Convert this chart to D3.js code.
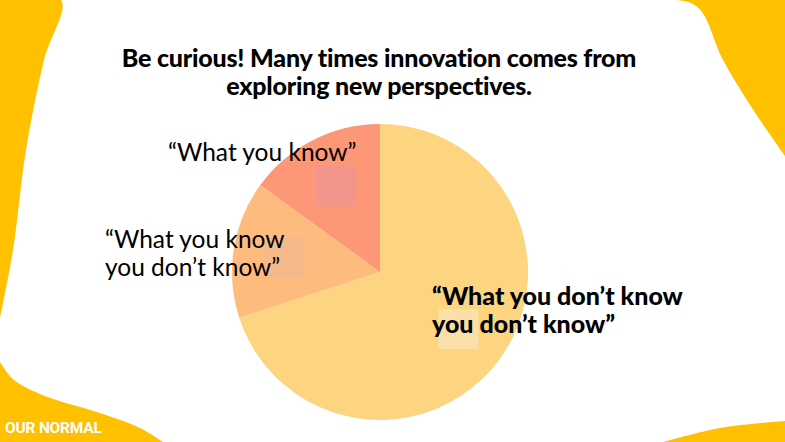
<!DOCTYPE html>
<html lang="en">
<head>
<meta charset="UTF-8">
<title>Be curious</title>
<script src="https://d3js.org/d3.v7.min.js"></script>
<style>
  body { margin: 0; background: #fff; }
  svg { display: block; }
</style>
</head>
<body>
<script>
// chart data
var categories = ["What you don't know you don't know", "What you know you don't know", "What you know"];
var shares = [70, 15, 15];
var sliceColors = ["#fdd47f", "#fdbb7e", "#fe9777"];
var boxColors = ["#fbdfa8", "#f5ba8c", "#f2958a"];
var titleLines = ["Be curious! Many times innovation comes from", "exploring new perspectives."];

var width = 785, height = 442;
var cx = 380, cy = 272, radius = 148;

var svg = d3.select("body").append("svg")
    .attr("width", width)
    .attr("height", height);

svg.append("rect").attr("width", width).attr("height", height).attr("fill", "#fff");

// yellow background shapes
var curve = d3.line().curve(d3.curveCatmullRom);
var yellow = "#ffc000";
svg.append("path").attr("fill", yellow)
    .attr("d", curve([[0, 0], [61, 0], [44, 60], [26, 150], [13, 250], [0, 318]]) + "L0,0Z");
svg.append("path").attr("fill", yellow)
    .attr("d", curve([[0, 362], [14, 380], [45, 396], [100, 413], [140, 428], [163, 442]]) + "L0,442Z");
svg.append("path").attr("fill", yellow)
    .attr("d", curve([[630, 0], [688, 2], [702, 12], [722, 58], [752, 108], [785, 156]]) + "L785,0Z");
svg.append("path").attr("fill", yellow)
    .attr("d", curve([[663, 442], [720, 428], [785, 421]]) + "L785,442Z");

svg.append("text")
    .attr("x", 5).attr("y", 433)
    .attr("fill", "#fff")
    .style("font-family", "Roboto")
    .style("font-weight", 700)
    .style("font-size", "15.5px")
    .style("letter-spacing", "-0.2px")
    .text("OUR NORMAL");

// title
svg.append("g").selectAll("text")
    .data(titleLines)
    .enter().append("text")
    .attr("x", 379)
    .attr("y", function(d, i) { return 67 + i * 28; })
    .attr("text-anchor", "middle")
    .style("font-family", "Lato")
    .style("font-weight", 900)
    .style("font-size", "25px")
    .style("letter-spacing", "-0.2px")
    .text(function(d) { return d; });

// pie
var pie = d3.pie().sort(null).value(function(d) { return d; });
var arc = d3.arc().innerRadius(0).outerRadius(radius);
var boxArc = d3.arc().innerRadius(97).outerRadius(97);

var g = svg.append("g").attr("transform", "translate(" + cx + "," + cy + ")");
var arcs = pie(shares);

g.selectAll("path.slice")
    .data(arcs)
    .enter().append("path")
    .attr("class", "slice")
    .attr("d", arc)
    .attr("fill", function(d, i) { return sliceColors[i]; });

g.selectAll("rect.box")
    .data(arcs)
    .enter().append("rect")
    .attr("class", "box")
    .attr("x", function(d) { return boxArc.centroid(d)[0] - 20; })
    .attr("y", function(d) { return boxArc.centroid(d)[1] - 20; })
    .attr("width", 40).attr("height", 40)
    .attr("fill", function(d, i) { return boxColors[i]; });

// labels
var labels = [
    {lines: ["\u201CWhat you don\u2019t know", "you don\u2019t know\u201D"], x: 432, y: 305, bold: true},
    {lines: ["\u201CWhat you know", "you don\u2019t know\u201D"], x: 105, y: 248, bold: false},
    {lines: ["\u201CWhat you know\u201D"], x: 168, y: 161, bold: false}
];

labels.forEach(function(l) {
    var t = svg.append("text")
        .attr("x", l.x).attr("y", l.y)
        .style("font-family", "Lato")
        .style("font-weight", l.bold ? 900 : 400)
        .style("font-size", l.bold ? "25px" : "24.5px")
        .attr("fill", "#000");
    l.lines.forEach(function(s, i) {
        t.append("tspan").attr("x", l.x).attr("dy", i === 0 ? 0 : 28).text(s);
    });
});
</script>
</body>
</html>
